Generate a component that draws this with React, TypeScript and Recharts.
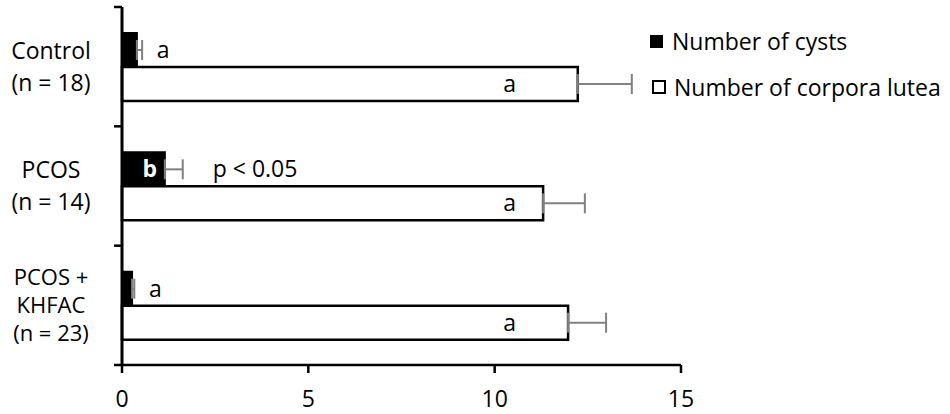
import React from 'react';
import { BarChart, Bar, XAxis, YAxis, ErrorBar, LabelList } from 'recharts';

// groups (top to bottom), means and SEM
const groups = ['Control\n(n = 18)', 'PCOS\n(n = 14)', 'PCOS +\nKHFAC\n(n = 23)'];
const cysts = [0.4, 1.15, 0.27];
const cystsSem = [0.14, 0.48, 0.06];
const corporaLutea = [12.23, 11.3, 11.97];
const corporaSem = [1.45, 1.12, 1.02];
const cystLetters = ['a', 'b', 'a'];
const cystLetterInside = [false, true, false];
const cystNotes = ['', 'p < 0.05', ''];
const corporaLetters = ['a', 'a', 'a'];
const xTicks = [0, 5, 10, 15];

const W = 950;
const H = 414;
const MARGIN = { top: 7, right: 269, bottom: 0, left: 0 };
const X_AXIS_H = 49;
const Y_AXIS_W = 122;
const FONT = '"Open Sans", sans-serif';
const FS = 23;
const LETTER_AT = 10.4; // where the "a" sits inside the white bars (x units)

const data = groups.map((name, i) => ({
  name,
  cysts: cysts[i],
  cystsErr: [0, cystsSem[i]],
  corpora: corporaLutea[i],
  corporaErr: [0, corporaSem[i]],
}));

const GroupTick = (props: any) => {
  const { y, payload, index } = props;
  const lines = String(payload.value).split('\n');
  const half = payload.offset || (H - MARGIN.top - X_AXIS_H) / groups.length / 2;
  const three = lines.length > 2;
  const step = three ? 28 : 32;
  const first = y - ((lines.length - 1) * step) / 2;
  const ax = MARGIN.left + Y_AXIS_W;
  return (
    <g>
      <line x1={ax - 8} x2={ax} y1={y - half} y2={y - half} stroke="#000" strokeWidth={2.5} />
      {index === groups.length - 1 && (
        <line x1={ax - 8} x2={ax} y1={y + half} y2={y + half} stroke="#000" strokeWidth={2.5} />
      )}
      {lines.map((l, k) => (
        <text key={k} x={51} y={first + k * step} dy="0.35em" textAnchor="middle" fontSize={three ? 22 : FS} fill="#000" fontFamily={FONT}>
          {l}
        </text>
      ))}
    </g>
  );
};

const CystLabel = (props: any) => {
  const { x, y, width, height, index } = props;
  const unit = width / cysts[index];
  const errEnd = x + (cysts[index] + cystsSem[index]) * unit;
  const cy = y + height / 2;
  return (
    <g fontFamily={FONT} fontSize={FS}>
      {cystLetterInside[index] ? (
        <text x={x + width - 15} y={cy} dy="0.35em" textAnchor="middle" fill="#fff" fontWeight="bold">
          {cystLetters[index]}
        </text>
      ) : (
        <text x={errEnd + 21} y={cy} dy="0.35em" textAnchor="middle" fill="#000">
          {cystLetters[index]}
        </text>
      )}
      {cystNotes[index] && (
        <text x={errEnd + 30} y={cy} dy="0.35em" textAnchor="start" fill="#000">
          {cystNotes[index]}
        </text>
      )}
    </g>
  );
};

const CorporaLabel = (props: any) => {
  const { x, y, width, height, index } = props;
  const unit = width / corporaLutea[index];
  return (
    <text x={x + LETTER_AT * unit} y={y + height / 2} dy="0.35em" textAnchor="middle" fill="#000" fontFamily={FONT} fontSize={FS}>
      {corporaLetters[index]}
    </text>
  );
};

const App: React.FC = () => {
  return (
    <div style={{ position: 'absolute', left: 0, top: 0, width: W, height: H, background: '#fff', fontFamily: FONT }}>
      <BarChart width={W} height={H} data={data} layout="vertical" margin={MARGIN} barSize={34} barGap={0}>
        <XAxis
          type="number"
          domain={[0, 15]}
          ticks={xTicks}
          height={X_AXIS_H}
          axisLine={{ stroke: '#000', strokeWidth: 2.5 }}
          tickLine={{ stroke: '#000', strokeWidth: 2.5 }}
          tickSize={8}
          tickMargin={18}
          tick={{ fill: '#000', fontSize: FS, fontFamily: FONT }}
        />
        <YAxis
          type="category"
          dataKey="name"
          width={Y_AXIS_W}
          axisLine={{ stroke: '#000', strokeWidth: 3 }}
          tickLine={false}
          tick={<GroupTick />}
          interval={0}
        />
        <Bar dataKey="cysts" fill="#000" stroke="#000" strokeWidth={2} isAnimationActive={false}>
          <ErrorBar dataKey="cystsErr" direction="x" width={10} stroke="#808080" strokeWidth={2} />
          <LabelList dataKey="cysts" content={<CystLabel />} />
        </Bar>
        <Bar dataKey="corpora" fill="#fff" stroke="#000" strokeWidth={2.5} isAnimationActive={false}>
          <ErrorBar dataKey="corporaErr" direction="x" width={10} stroke="#808080" strokeWidth={2} />
          <LabelList dataKey="corpora" content={<CorporaLabel />} />
        </Bar>
      </BarChart>
      <div style={{ position: 'absolute', left: 650, top: 28, fontSize: FS, color: '#000', lineHeight: '26px' }}>
        <div style={{ display: 'flex', alignItems: 'center', height: 26 }}>
          <span style={{ width: 13, height: 13, background: '#000', display: 'inline-block', marginRight: 9 }} />
          <span>Number of cysts</span>
        </div>
        <div style={{ display: 'flex', alignItems: 'center', height: 26, marginTop: 20 }}>
          <span style={{ width: 10, height: 10, border: '2px solid #000', display: 'inline-block', marginLeft: 2, marginRight: 8 }} />
          <span>Number of corpora lutea</span>
        </div>
      </div>
    </div>
  );
};

export default App;
